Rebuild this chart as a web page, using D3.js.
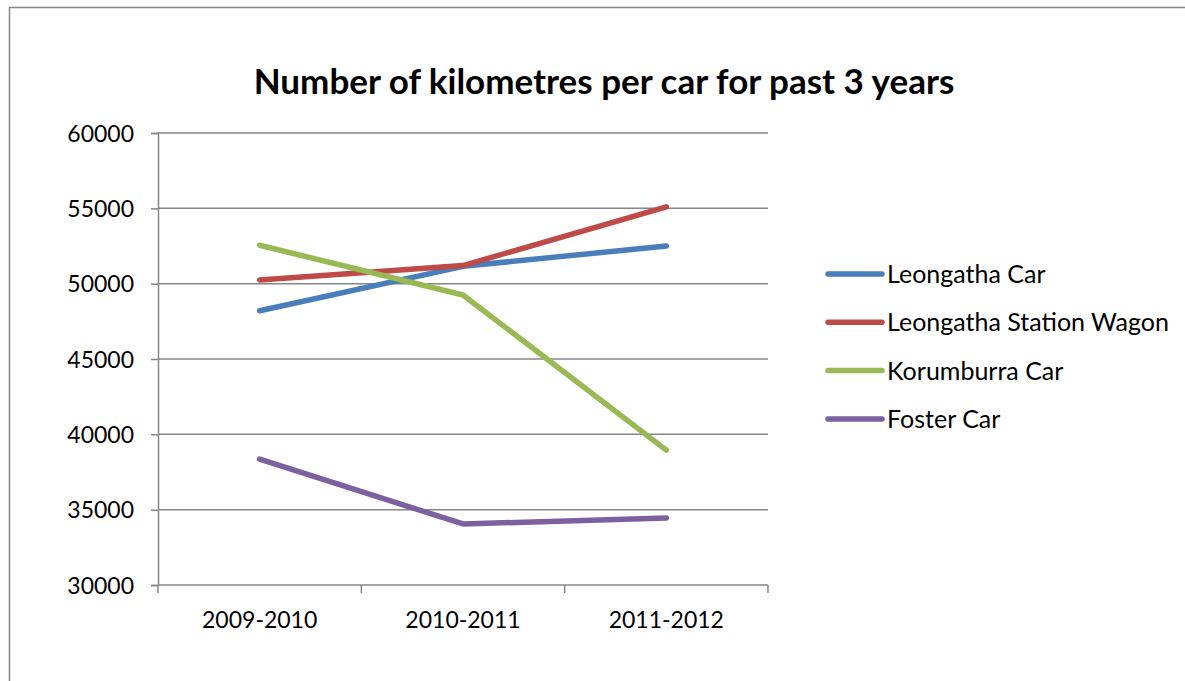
<!DOCTYPE html>
<html>
<head>
<meta charset="utf-8">
<script src="https://cdn.jsdelivr.net/npm/d3@7"></script>
<style>
  html, body { margin: 0; padding: 0; background: #fff; }
  svg { display: block; }
  text { font-family: Lato, "Open Sans", sans-serif; fill: #000; }
</style>
</head>
<body>
<svg id="chart" width="1185" height="681"></svg>
<script>
// Kilometres driven per car, by financial year
const periods = ["2009-2010", "2010-2011", "2011-2012"];
const seriesNames = ["Leongatha Car", "Leongatha Station Wagon", "Korumburra Car", "Foster Car"];
const leongathaCar = [48200, 51150, 52500];
const leongathaWagon = [50250, 51200, 55100];
const korumburraCar = [52550, 49250, 38950];
const fosterCar = [38350, 34050, 34450];
const yTicks = [30000, 35000, 40000, 45000, 50000, 55000, 60000];
const colors = ["#4a7ebb", "#be4b48", "#98b954", "#7d60a0"];

const seriesValues = [leongathaCar, leongathaWagon, korumburraCar, fosterCar];
const series = seriesNames.map((name, i) => ({ name, color: colors[i], values: seriesValues[i] }));

const svg = d3.select("#chart");
const axisGrey = "#868686";

// Chart frame
svg.append("rect")
  .attr("x", 9.5).attr("y", 7.5)
  .attr("width", 1200).attr("height", 700)
  .attr("fill", "#fff").attr("stroke", axisGrey).attr("stroke-width", 1.5);

const plot = { left: 158, right: 768, top: 133, bottom: 585 };

const x = d3.scaleBand().domain(periods).range([plot.left, plot.right]).paddingInner(0).paddingOuter(0);
const y = d3.scaleLinear().domain([30000, 60000]).range([plot.bottom, plot.top]);
const cx = d => x(d) + x.bandwidth() / 2;

// Title
svg.append("text")
  .attr("x", 604).attr("y", 94)
  .attr("text-anchor", "middle")
  .style("font-size", "35px").style("font-weight", "700")
  .text("Number of kilometres per car for past 3 years");

// Horizontal gridlines
svg.append("g").selectAll("line")
  .data(yTicks.filter(v => v > 30000))
  .join("line")
  .attr("x1", plot.left).attr("x2", plot.right)
  .attr("y1", d => y(d)).attr("y2", d => y(d))
  .attr("stroke", axisGrey).attr("stroke-width", 1.5);

// Value axis
const yAxis = svg.append("g")
  .attr("transform", `translate(${plot.left},0)`)
  .call(d3.axisLeft(y).tickValues(yTicks).tickSize(7).tickPadding(17).tickFormat(d3.format("d")));
yAxis.select(".domain").attr("stroke", axisGrey).attr("stroke-width", 1.5);
yAxis.selectAll(".tick line").attr("stroke", axisGrey).attr("stroke-width", 1.5);
yAxis.selectAll(".tick text")
  .style("font-family", "Lato, sans-serif").style("font-size", "23px").attr("fill", "#000")
  .attr("dy", "0.36em");

// Category axis
const xAxis = svg.append("g");
xAxis.append("line")
  .attr("x1", plot.left).attr("x2", plot.right)
  .attr("y1", plot.bottom).attr("y2", plot.bottom)
  .attr("stroke", axisGrey).attr("stroke-width", 1.5);
const edges = periods.map(p => x(p)).concat([x(periods[periods.length - 1]) + x.bandwidth()]);
xAxis.selectAll("line.tick")
  .data(edges)
  .join("line")
  .attr("class", "tick")
  .attr("x1", d => d).attr("x2", d => d)
  .attr("y1", plot.bottom).attr("y2", plot.bottom + 8)
  .attr("stroke", axisGrey).attr("stroke-width", 1.5);
xAxis.selectAll("text")
  .data(periods)
  .join("text")
  .attr("x", d => cx(d)).attr("y", 628)
  .attr("text-anchor", "middle")
  .style("font-size", "23px")
  .text(d => d);

// Series lines
const line = d3.line()
  .x((v, i) => cx(periods[i]))
  .y(v => y(v));

svg.append("g").selectAll("path")
  .data(series)
  .join("path")
  .attr("d", d => line(d.values))
  .attr("fill", "none")
  .attr("stroke", d => d.color)
  .attr("stroke-width", 5.5)
  .attr("stroke-linecap", "round")
  .attr("stroke-linejoin", "round");

// Legend
const legend = svg.append("g");
const legendRows = legend.selectAll("g")
  .data(series)
  .join("g")
  .attr("transform", (d, i) => `translate(828,${274 + i * 48.3})`);
legendRows.append("line")
  .attr("x1", 0).attr("x2", 54)
  .attr("stroke", d => d.color)
  .attr("stroke-width", 5.5)
  .attr("stroke-linecap", "round");
legendRows.append("text")
  .attr("x", 59).attr("y", 0).attr("dy", "0.36em")
  .style("font-size", "25px")
  .text(d => d.name);
</script>
</body>
</html>
